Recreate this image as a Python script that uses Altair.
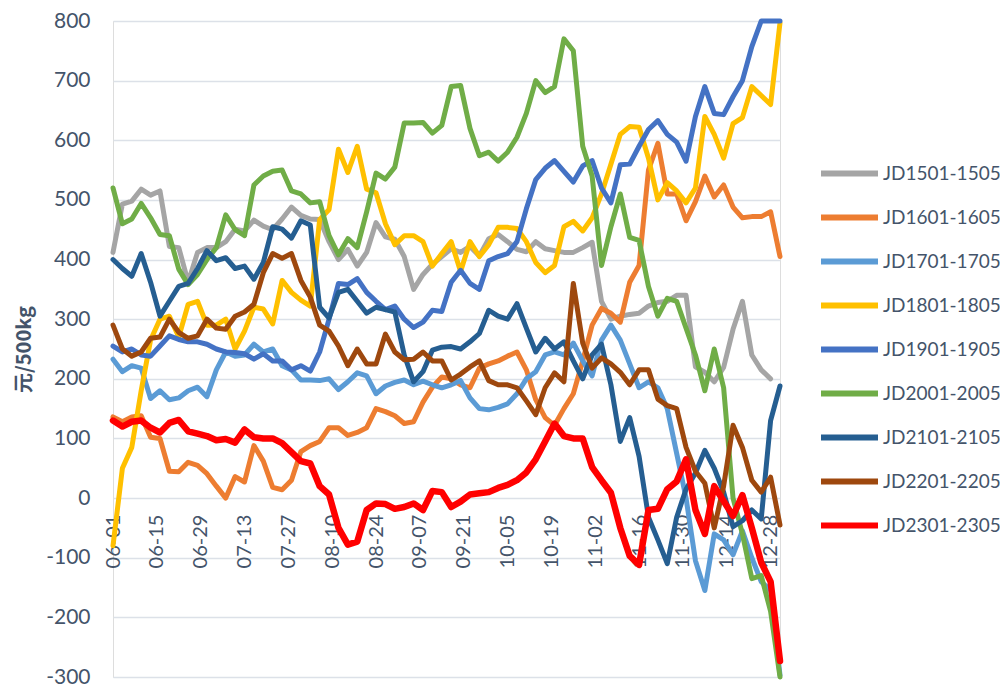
import altair as alt
import pandas as pd

# x positions: calendar days after 06-01 (sampled every 3 days, 06-01 .. 12-31)
DAYS = list(range(0, 214, 3))

TICK_DAYS = [0, 14, 28, 42, 56, 70, 84, 98, 112, 126, 140, 154, 168, 182, 196, 210]
TICK_LABELS = ["06-01", "06-15", "06-29", "07-13", "07-27", "08-10", "08-24", "09-07",
               "09-21", "10-05", "10-19", "11-02", "11-16", "11-30", "12-14", "12-28"]

SERIES = ["JD1501-1505", "JD1601-1605", "JD1701-1705", "JD1801-1805", "JD1901-1905",
          "JD2001-2005", "JD2101-2105", "JD2201-2205", "JD2301-2305"]
COLORS = ["#A5A5A5", "#ED7D31", "#5B9BD5", "#FFC000", "#4472C4",
          "#70AD47", "#255E91", "#9E480E", "#FF0000"]

JD1501 = [412, 493, 498, 518, 508, 515, 422, 420, 362, 412,
          420, 420, 430, 451, 448, 466, 456, 450, 468, 488,
          474, 468, 467, 430, 400, 417, 389, 412, 462, 438,
          434, 405, 350, 375, 392, 405, 418, 412, 422, 406,
          435, 442, 430, 417, 413, 430, 418, 415, 412, 412,
          420, 429, 330, 300, 305, 308, 310, 322, 328, 330,
          340, 340, 220, 211, 195, 219, 283, 330, 240, 215,
          200, None]
JD1601 = [136, 128, 136, 138, 102, 100, 45, 44, 60, 55,
          41, 20, 0, 36, 27, 88, 62, 18, 14, 30,
          78, 88, 95, 118, 118, 105, 110, 118, 150, 145,
          138, 125, 128, 161, 186, 203, 200, 190, 185, 218,
          225, 230, 238, 245, 215, 165, 135, 122, 150, 175,
          230, 290, 318, 310, 295, 362, 390, 550, 595, 510,
          510, 465, 497, 540, 505, 525, 488, 470, 472, 472,
          480, 405]
JD1701 = [233, 212, 222, 218, 167, 180, 165, 168, 180, 186,
          170, 215, 245, 238, 240, 258, 245, 250, 222, 215,
          198, 198, 197, 200, 182, 195, 210, 205, 175, 188,
          194, 198, 190, 196, 190, 185, 190, 197, 168, 150,
          148, 152, 158, 175, 200, 212, 240, 245, 240, 260,
          230, 205, 265, 290, 265, 225, 185, 195, 185, 150,
          75, 0, -105, -155, -60, -70, -95, -55, -100, -140,
          -155, -297]
JD1801 = [-80, 50, 85, 180, 265, 300, 305, 270, 325, 330,
          290, 290, 300, 250, 280, 320, 317, 292, 365, 345,
          332, 322, 467, 484, 585, 546, 590, 518, 512, 460,
          425, 440, 440, 430, 389, 410, 430, 380, 430, 405,
          425, 454, 454, 452, 430, 395, 378, 390, 455, 464,
          448, 470, 510, 560, 610, 623, 622, 570, 500, 529,
          515, 495, 520, 640, 610, 570, 628, 638, 690, 675,
          660, 797]
JD1901 = [255, 245, 250, 240, 238, 255, 272, 266, 262, 262,
          258, 250, 245, 244, 242, 233, 242, 230, 230, 215,
          222, 213, 245, 300, 360, 358, 368, 345, 330, 316,
          322, 300, 286, 295, 315, 313, 362, 382, 360, 350,
          398, 405, 410, 430, 485, 534, 553, 566, 548, 530,
          557, 566, 520, 495, 559, 560, 590, 618, 633, 610,
          597, 565, 640, 690, 645, 643, 673, 700, 757, 800,
          800, 800]
JD2001 = [520, 460, 468, 494, 470, 442, 440, 384, 358, 375,
          400, 420, 475, 450, 440, 525, 540, 548, 550, 515,
          510, 495, 497, 440, 408, 435, 420, 480, 545, 535,
          555, 629, 629, 630, 612, 625, 690, 692, 620, 574,
          580, 565, 580, 605, 645, 700, 680, 690, 770, 750,
          590, 540, 390, 455, 510, 437, 432, 355, 305, 335,
          330, 285, 240, 180, 250, 185, 0, -60, -135, -130,
          -190, -300]
JD2101 = [400, 385, 372, 410, 362, 305, 330, 355, 360, 385,
          415, 398, 403, 385, 389, 367, 395, 455, 451, 436,
          465, 458, 320, 302, 345, 350, 330, 310, 320, 316,
          312, 240, 195, 212, 248, 253, 254, 250, 262, 276,
          315, 305, 300, 326, 285, 245, 268, 250, 262, 230,
          200, 240, 258, 190, 95, 135, 70, -32, -70, -110,
          -32, 15, 42, 80, 50, 10, -48, -38, -20, -35,
          130, 188]
JD2201 = [290, 250, 238, 245, 268, 270, 300, 278, 268, 272,
          300, 285, 283, 305, 312, 325, 378, 410, 402, 410,
          365, 337, 290, 280, 255, 222, 250, 225, 225, 275,
          245, 232, 233, 245, 230, 230, 198, 208, 220, 230,
          197, 190, 190, 185, 163, 140, 185, 210, 195, 360,
          260, 218, 235, 225, 211, 190, 215, 215, 166, 155,
          150, 85, 45, 25, -50, 20, 122, 85, 30, 10,
          35, -45]
JD2301 = [130, 120, 128, 130, 118, 110, 126, 131, 112, 108,
          104, 97, 99, 93, 115, 102, 100, 100, 92, 77,
          62, 58, 20, 6, -50, -78, -73, -20, -9, -10,
          -18, -15, -9, -20, 12, 10, -15, -6, 6, 8,
          10, 17, 22, 30, 43, 65, 95, 125, 104, 100,
          100, 52, 30, 9, -50, -97, -112, -20, -18, 15,
          28, 65, -20, -60, 20, -5, -30, 5, -50, -108,
          -140, -273]

VALUES = [JD1501, JD1601, JD1701, JD1801, JD1901, JD2001, JD2101, JD2201, JD2301]

rows = []
for name, vals in zip(SERIES, VALUES):
    for d, v in zip(DAYS, vals):
        if v is not None:
            rows.append({"series": name, "day": d, "value": v})
df = pd.DataFrame(rows)

TXT = "#44546A"
PLOT_H = 656
label_js = "[" + ",".join("'%s'" % t for t in TICK_LABELS) + "][round(datum.value/14)]"

chart = alt.Chart(df).mark_line(strokeJoin="round", strokeCap="round").encode(
    x=alt.X("day:Q",
            scale=alt.Scale(domain=[0, 213], nice=False, zero=False),
            axis=alt.Axis(values=TICK_DAYS, labelExpr=label_js, labelAngle=-90,
                          offset=-PLOT_H * 300 / 1100, domain=False, ticks=False, grid=False,
                          title=None, labelFont="Lato", labelFontSize=20, labelColor=TXT,
                          labelPadding=16, labelOverlap=False)),
    y=alt.Y("value:Q",
            scale=alt.Scale(domain=[-300, 800], nice=False, zero=False),
            axis=alt.Axis(values=list(range(-300, 900, 100)), title="元/500kg",
                          labelExpr="'' + datum.value",
                          titleFont="Noto Sans CJK SC", titleFontSize=20, titleFontWeight="bold",
                          titleColor=TXT, titleX=-89, titleY=PLOT_H / 2, titleAngle=270,
                          titleAlign="center", titleBaseline="middle",
                          labelFont="Lato", labelFontSize=21, labelColor=TXT, labelPadding=23,
                          domain=False, ticks=False, gridColor="#DCE1E8", gridWidth=1.5)),
    color=alt.Color("series:N",
                    scale=alt.Scale(domain=SERIES, range=COLORS),
                    legend=alt.Legend(title=None, orient="none", legendX=705, legendY=121,
                                      symbolType="stroke", symbolSize=3249, symbolStrokeWidth=6,
                                      labelFont="Lato", labelFontSize=19, labelColor=TXT,
                                      labelOffset=2, rowPadding=-12, padding=0)),
    strokeWidth=alt.condition(alt.datum.series == "JD2301-2305", alt.value(6.5), alt.value(5)),
).properties(
    width=667, height=PLOT_H,
    autosize=alt.AutoSizeParams(type="none"),
    padding={"left": 105, "top": 13, "right": 220, "bottom": 10},
).configure_view(stroke=None).configure(background="white")

chart.save("out.html", embed_options={"renderer": "svg", "actions": False})
